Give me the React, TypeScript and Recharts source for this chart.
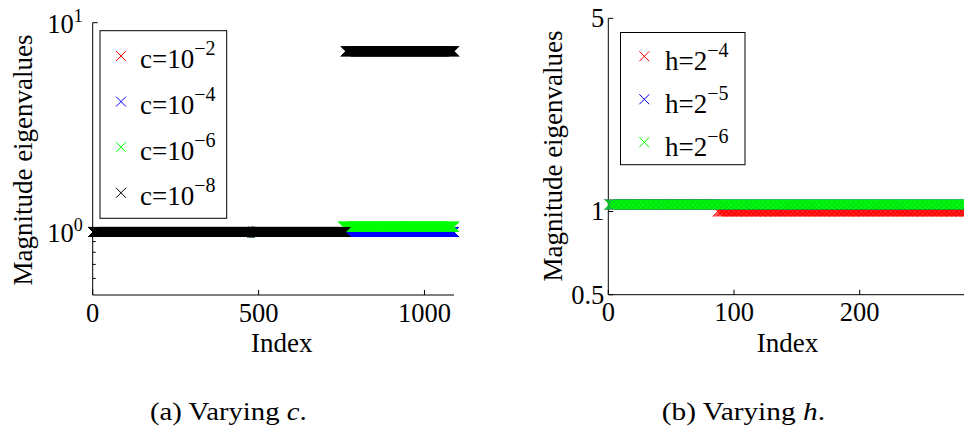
import React from 'react';
import { ScatterChart, Scatter, XAxis, YAxis } from 'recharts';

const FONT = "'Liberation Serif', 'DejaVu Serif', serif";

// eigenvalue magnitudes as runs: [first index, last index, magnitude]
type Run = [number, number, number];

const cIndexMax = 1089;
const cRed: Run[] = [[1, 1089, 1.0]];
const cBlue: Run[] = [[1, 1089, 1.0]];
const cGreen: Run[] = [[1, 754, 1.0], [755, 1089, 1.06]];
const cBlack: Run[] = [[1, 762, 1.0], [763, 1089, 7.3]];
const cLegend = ['−2', '−4', '−6', '−8'];
const cXTicks = [0, 500, 1000];
const cYTicks = [0.6, 0.7, 0.8, 0.9, 1, 10];
const cYMajor = [1, 10];

const hIndexMax = 289;
const hRed: Run[] = [[1, 86, 1.06], [87, 289, 1.0]];
const hBlue: Run[] = [[1, 289, 1.06]];
const hGreen: Run[] = [[1, 289, 1.06]];
const hLegend = ['−4', '−5', '−6'];
const hXTicks = [0, 100, 200];
const hYTicks = [0.5, 1, 5];

const colors = ['#ff0000', '#0000ff', '#00ff00', '#000000'];

const expand = (runs: Run[]) => {
  const pts: { x: number; y: number }[] = [];
  runs.forEach(([a, b, v]) => {
    for (let i = a; i <= b; i++) pts.push({ x: i, y: v });
  });
  return pts;
};

const xMark = (color: string) => (props: any) => {
  const { cx, cy } = props;
  const s = 5;
  return (
    <path
      d={`M${cx - s},${cy - s}L${cx + s},${cy + s}M${cx - s},${cy + s}L${cx + s},${cy - s}`}
      stroke={color}
      strokeWidth={1}
      fill="none"
    />
  );
};

type Side = 'bottom' | 'top' | 'left' | 'right';

const makeTick = (side: Side, label?: (v: number, x: number, y: number) => React.ReactNode, major?: number[]) =>
  (props: any) => {
    const { x, y, payload } = props;
    const v = payload.value;
    const len = major && !major.includes(v) ? 3 : 5;
    let line;
    if (side === 'bottom') line = <line x1={x} x2={x} y1={y} y2={y - len} stroke="#000" />;
    else if (side === 'top') line = <line x1={x} x2={x} y1={y} y2={y + len} stroke="#000" />;
    else if (side === 'left') line = <line x1={x} x2={x + len} y1={y} y2={y} stroke="#000" />;
    else line = <line x1={x} x2={x - len} y1={y} y2={y} stroke="#000" />;
    return (
      <g>
        {line}
        {label ? label(v, x, y) : null}
      </g>
    );
  };

const txt = { fontFamily: FONT, fill: '#000' };

const bottomLabel = (v: number, x: number, y: number) => (
  <text x={x} y={y + 26.7} textAnchor="middle" fontSize={26.5} style={txt}>
    {v}
  </text>
);

const powLabel = (v: number, x: number, y: number) =>
  cYMajor.includes(v) ? (
    <text x={x - 10} y={y + 10} textAnchor="end" fontSize={26.5} style={txt}>
      <tspan>10</tspan>
      <tspan fontSize={18} dy={-11}>{Math.round(Math.log10(v))}</tspan>
    </text>
  ) : null;

const plainYLabel = (v: number, x: number, y: number) => (
  <text x={x - 4} y={y + 9} textAnchor="end" fontSize={26.5} style={txt}>
    {v}
  </text>
);

const axisLine = { stroke: '#000', strokeWidth: 1 };

const LeftChart = () => (
  <ScatterChart width={480} height={380} margin={{ top: 22.7, right: 26, bottom: 30, left: 0 }}>
    <XAxis type="number" dataKey="x" domain={[0, cIndexMax]} ticks={cXTicks} interval={0}
      height={55} tickSize={0} tickMargin={0} tickLine={false} axisLine={axisLine}
      tick={makeTick('bottom', bottomLabel)} />
    <XAxis xAxisId="top" orientation="top" type="number" domain={[0, cIndexMax]} ticks={cXTicks} interval={0}
      height={0} tickSize={0} tickMargin={0} tickLine={false} axisLine={axisLine}
      tick={makeTick('top')} />
    <YAxis type="number" dataKey="y" scale="log" domain={[0.5, 10]} allowDataOverflow ticks={cYTicks} interval={0}
      width={92.7} tickSize={0} tickMargin={0} tickLine={false} axisLine={axisLine}
      tick={makeTick('left', powLabel, cYMajor)} />
    <YAxis yAxisId="right" orientation="right" type="number" scale="log" domain={[0.5, 10]} allowDataOverflow
      ticks={cYTicks} interval={0} width={0} tickSize={0} tickMargin={0} tickLine={false} axisLine={axisLine}
      tick={makeTick('right', undefined, cYMajor)} />
    {[cRed, cBlue, cGreen, cBlack].map((runs, i) => (
      <Scatter key={i} data={expand(runs)} shape={xMark(colors[i])} isAnimationActive={false} />
    ))}
  </ScatterChart>
);

const RightChart = () => (
  <ScatterChart width={492} height={380} margin={{ top: 18.3, right: 0.4, bottom: 30.3, left: 0 }}>
    <XAxis type="number" dataKey="x" domain={[0, hIndexMax]} ticks={hXTicks} interval={0}
      height={55} tickSize={0} tickMargin={0} tickLine={false} axisLine={axisLine}
      tick={makeTick('bottom', bottomLabel)} />
    <XAxis xAxisId="top" orientation="top" type="number" domain={[0, hIndexMax]} ticks={hXTicks} interval={0}
      height={0} tickSize={0} tickMargin={0} tickLine={false} axisLine={axisLine}
      tick={makeTick('top')} />
    <YAxis type="number" dataKey="y" scale="log" domain={[0.5, 5]} allowDataOverflow ticks={hYTicks} interval={0}
      width={128.3} tickSize={0} tickMargin={0} tickLine={false} axisLine={axisLine}
      tick={makeTick('left', plainYLabel)} />
    {[hRed, hBlue, hGreen].map((runs, i) => (
      <Scatter key={i} data={expand(runs)} shape={xMark(colors[i])} isAnimationActive={false} />
    ))}
  </ScatterChart>
);

const markPath = (cx: number, cy: number) => {
  const s = 5;
  return `M${cx - s},${cy - s}L${cx + s},${cy + s}M${cx - s},${cy + s}L${cx + s},${cy - s}`;
};

const Overlay = () => (
  <svg width={964} height={431} style={{ position: 'absolute', left: 0, top: 0, pointerEvents: 'none', ...txt }}>
    {/* axis titles */}
    <text transform="translate(31.7,160) rotate(-90)" textAnchor="middle" fontSize={27} style={txt}>Magnitude eigenvalues</text>
    <text transform="translate(561.7,156) rotate(-90)" textAnchor="middle" fontSize={27} style={txt}>Magnitude eigenvalues</text>
    <text x={281.7} y={351.7} textAnchor="middle" fontSize={27} style={txt}>Index</text>
    <text x={787.5} y={351.7} textAnchor="middle" fontSize={27} style={txt}>Index</text>

    {/* legend (a) */}
    <rect x={100} y={30.7} width={126.7} height={187.6} fill="#fff" stroke="#000" strokeWidth={1} />
    {cLegend.map((e, i) => (
      <g key={e}>
        <path d={markPath(121, 56 + i * 45.6)} stroke={colors[i]} strokeWidth={1} fill="none" />
        <text x={140} y={68.3 + i * 45.6} fontSize={27} style={txt}>
          <tspan>c=10</tspan>
          <tspan fontSize={20} dy={-13}>{e}</tspan>
        </text>
      </g>
    ))}

    {/* legend (b) */}
    <rect x={620.5} y={32.5} width={124.5} height={132.2} fill="#fff" stroke="#000" strokeWidth={1} />
    {hLegend.map((e, i) => (
      <g key={e}>
        <path d={markPath(644.3, 56.3 + i * 43)} stroke={colors[i]} strokeWidth={1} fill="none" />
        <text x={665} y={69.7 + i * 43} fontSize={27} style={txt}>
          <tspan>h=2</tspan>
          <tspan fontSize={20} dy={-13}>{e}</tspan>
        </text>
      </g>
    ))}

    {/* captions */}
    <text x={150} y={420} fontSize={25} textLength={156.7} lengthAdjust="spacingAndGlyphs" style={txt}>
      (a) Varying <tspan fontStyle="italic">c</tspan>.
    </text>
    <text x={661.7} y={420} fontSize={25} textLength={163.3} lengthAdjust="spacingAndGlyphs" style={txt}>
      (b) Varying <tspan fontStyle="italic">h</tspan>.
    </text>
  </svg>
);

export default function App() {
  return (
    <div style={{ position: 'relative', width: 964, height: 431, overflow: 'hidden', background: '#fff' }}>
      <style>{'body{margin:0}'}</style>
      <div style={{ position: 'absolute', left: 0, top: 0 }}>
        <LeftChart />
      </div>
      <div style={{ position: 'absolute', left: 480, top: 0 }}>
        <RightChart />
      </div>
      <Overlay />
    </div>
  );
}
